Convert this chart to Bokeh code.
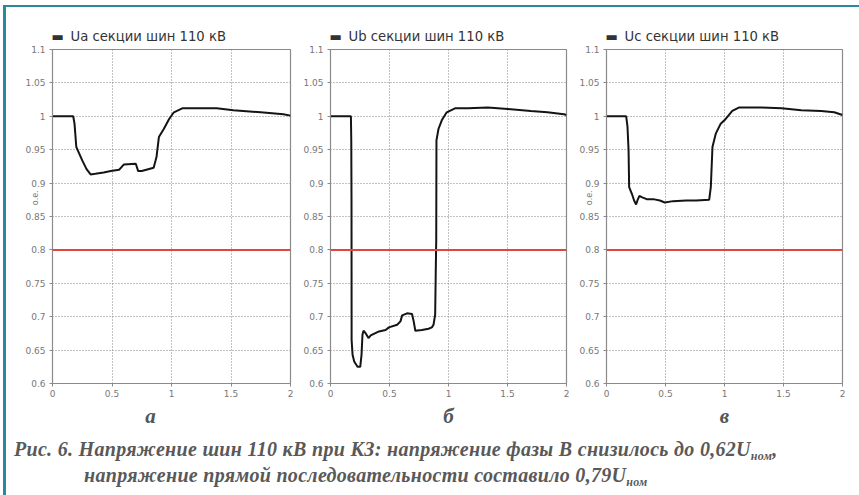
from bokeh.plotting import figure
from bokeh.models import Range1d, FixedTicker, Span, LinearAxis, Div, Title
from bokeh.layouts import row, column
from bokeh.embed import file_html
from bokeh.resources import INLINE

# ---- data ----
T_A = [0.0, 0.174, 0.185, 0.20, 0.22, 0.25, 0.286, 0.32, 0.36, 0.43, 0.49, 0.56, 0.58, 0.60,
       0.70, 0.72, 0.75, 0.85, 0.874, 0.894, 0.935, 0.98, 1.02, 1.09, 1.24, 1.38, 1.52, 1.75, 1.94, 2.0]
U_A = [1.0, 1.0, 0.989, 0.954, 0.946, 0.934, 0.921, 0.913, 0.914, 0.916, 0.918, 0.920, 0.924, 0.928,
       0.929, 0.918, 0.918, 0.923, 0.939, 0.969, 0.981, 0.996, 1.006, 1.012, 1.012, 1.012, 1.009, 1.006, 1.003, 1.001]

T_B = [0.0, 0.173, 0.176, 0.178, 0.179, 0.187, 0.201, 0.229, 0.252, 0.263, 0.271, 0.28, 0.299, 0.322,
       0.341, 0.411, 0.467, 0.495, 0.565, 0.593, 0.607, 0.649, 0.691, 0.705, 0.719, 0.775, 0.831,
       0.859, 0.873, 0.887, 0.892, 0.896, 0.898, 0.915, 0.943, 0.985, 1.055, 1.166, 1.334, 1.502,
       1.698, 1.838, 1.978, 2.0]
U_B = [1.0, 1.0, 0.964, 0.874, 0.665, 0.643, 0.633, 0.625, 0.625, 0.643, 0.673, 0.679, 0.675, 0.668,
       0.672, 0.678, 0.680, 0.684, 0.688, 0.693, 0.702, 0.705, 0.704, 0.693, 0.679, 0.680, 0.682,
       0.684, 0.688, 0.703, 0.768, 0.814, 0.964, 0.981, 0.994, 1.006, 1.012, 1.012, 1.013, 1.011,
       1.008, 1.006, 1.003, 1.002]

T_C = [0.0, 0.167, 0.178, 0.187, 0.192, 0.215, 0.234, 0.251, 0.262, 0.279, 0.298, 0.34, 0.396,
       0.452, 0.494, 0.564, 0.675, 0.759, 0.87, 0.884, 0.898, 0.926, 0.968, 1.01, 1.066, 1.121,
       1.317, 1.484, 1.651, 1.819, 1.93, 2.0]
U_C = [1.0, 1.0, 0.984, 0.949, 0.894, 0.884, 0.874, 0.868, 0.874, 0.881, 0.879, 0.876, 0.876,
       0.874, 0.871, 0.873, 0.874, 0.874, 0.875, 0.894, 0.954, 0.974, 0.989, 0.996, 1.008, 1.013,
       1.013, 1.012, 1.009, 1.008, 1.006, 1.002]

Y_TICKS = [0.6, 0.65, 0.7, 0.75, 0.8, 0.85, 0.9, 0.95, 1.0, 1.05, 1.1]
Y_TICK_LABELS = ["0.6", "0.65", "0.7", "0.75", "0.8", "0.85", "0.9", "0.95", "1", "1.05", "1.1"]
X_TICKS = [0, 0.5, 1, 1.5, 2]
X_TICK_LABELS = ["0", "0.5", "1", "1.5", "2"]
LIMIT = 0.8
LEGENDS = ["Ua секции шин 110 кВ", "Ub секции шин 110 кВ", "Uc секции шин 110 кВ"]
LEGEND_MARK = "\u25ac"
PANEL_LABELS = ["а", "б", "в"]
Y_UNIT = "о.е."
Y_UNIT_AT = 0.878
CAPTION_1 = "Рис. 6. Напряжение шин 110 кВ при КЗ: напряжение фазы В снизилось до 0,62U"
CAPTION_2 = "напряжение прямой последовательности составило 0,79U"
SUB = "ном"

GRAY = "#8a8a8a"


def panel(t, u, legend_text, plabel, width, lb, rb, show_unit):
    p = figure(width=width, height=424, output_backend="svg", toolbar_location=None,
               x_range=Range1d(0, 2), y_range=Range1d(0.6, 1.1),
               min_border_left=lb, min_border_right=rb, min_border_top=42, min_border_bottom=48)
    p.background_fill_color = "white"
    p.border_fill_color = "white"
    p.outline_line_color = GRAY
    p.outline_line_width = 1.2
    for ax, ticks, labels in ((p.xaxis[0], X_TICKS, X_TICK_LABELS), (p.yaxis[0], Y_TICKS, Y_TICK_LABELS)):
        ax.ticker = FixedTicker(ticks=ticks)
        ax.major_label_overrides = {tk: lab for tk, lab in zip(ticks, labels)}
        ax.minor_tick_line_color = None
        ax.major_tick_in = 0
        ax.major_tick_out = 3
        ax.major_tick_line_color = GRAY
        ax.axis_line_color = GRAY
        ax.major_label_text_font = "DejaVu Sans"
        ax.major_label_text_font_size = "9px"
        ax.major_label_text_color = "#777777"
    p.xaxis.major_label_standoff = 3
    p.yaxis.major_label_standoff = 4
    p.xaxis.axis_label = plabel
    p.xaxis.axis_label_standoff = 4
    p.xaxis.axis_label_text_font = "Liberation Serif"
    p.xaxis.axis_label_text_font_style = "bold italic"
    p.xaxis.axis_label_text_font_size = "21px"
    p.xaxis.axis_label_text_color = "#555555"
    p.xgrid.ticker = FixedTicker(ticks=X_TICKS[1:-1])
    p.ygrid.ticker = FixedTicker(ticks=Y_TICKS[1:-1])
    for g in (p.xgrid[0], p.ygrid[0]):
        g.grid_line_color = "#858585"
        g.grid_line_dash = "1 2"
        g.grid_line_width = 1

    if show_unit:
        unit_axis = LinearAxis(ticker=FixedTicker(ticks=[Y_UNIT_AT]),
                               major_label_overrides={Y_UNIT_AT: Y_UNIT},
                               major_label_orientation="vertical",
                               major_label_standoff=-18, major_tick_out=0, major_tick_in=0,
                               axis_line_color=None, major_tick_line_color=None,
                               minor_tick_line_color=None,
                               major_label_text_font="DejaVu Sans",
                               major_label_text_font_size="8px",
                               major_label_text_color="#777777")
        p.add_layout(unit_axis, "left")

    p.add_layout(Span(location=LIMIT, dimension="width", line_color="#e0463e", line_width=2))
    p.line(t, u, line_color="#141414", line_width=2)

    p.title = Title(text=LEGEND_MARK + "\u2002" + legend_text, align="left", offset=-1, standoff=12,
                    text_font="DejaVu Sans", text_font_style="normal", text_font_size="13.2px",
                    text_color="#333333")
    return p


pa = panel(T_A, U_A, LEGENDS[0], PANEL_LABELS[0] + "\u2003\u2003", 294, 46, 10, True)
pb = panel(T_B, U_B, LEGENDS[1], PANEL_LABELS[1], 276, 28, 10, False)
pc = panel(T_C, U_C, LEGENDS[2], PANEL_LABELS[2], 283, 27, 17, True)

cap_style = ("font-family:'Liberation Serif';font-weight:bold;font-style:italic;"
             "font-size:20px;letter-spacing:0.3px;color:#595959;line-height:23px;white-space:nowrap;")
sub_style = "font-size:12px;letter-spacing:0.3px;position:relative;top:4px;"
html = (f"<div style=\"{cap_style}padding-top:2px;\">"
        f"<div style=\"padding-left:3px;\">{CAPTION_1}<span style=\"{sub_style}\">{SUB}</span>,</div>"
        f"<div style=\"padding-left:73px;\">{CAPTION_2}<span style=\"{sub_style}\">{SUB}</span></div>"
        f"</div>")
caption = Div(text=html, width=853, height=60)

layout = column(row(pa, pb, pc), caption,
                styles={"margin-left": "3px", "margin-top": "5px",
                        "border-left": "3px solid #2a8b98", "border-top": "2px solid #2a8b98"})

open("out.html", "w").write(file_html(layout, INLINE))
